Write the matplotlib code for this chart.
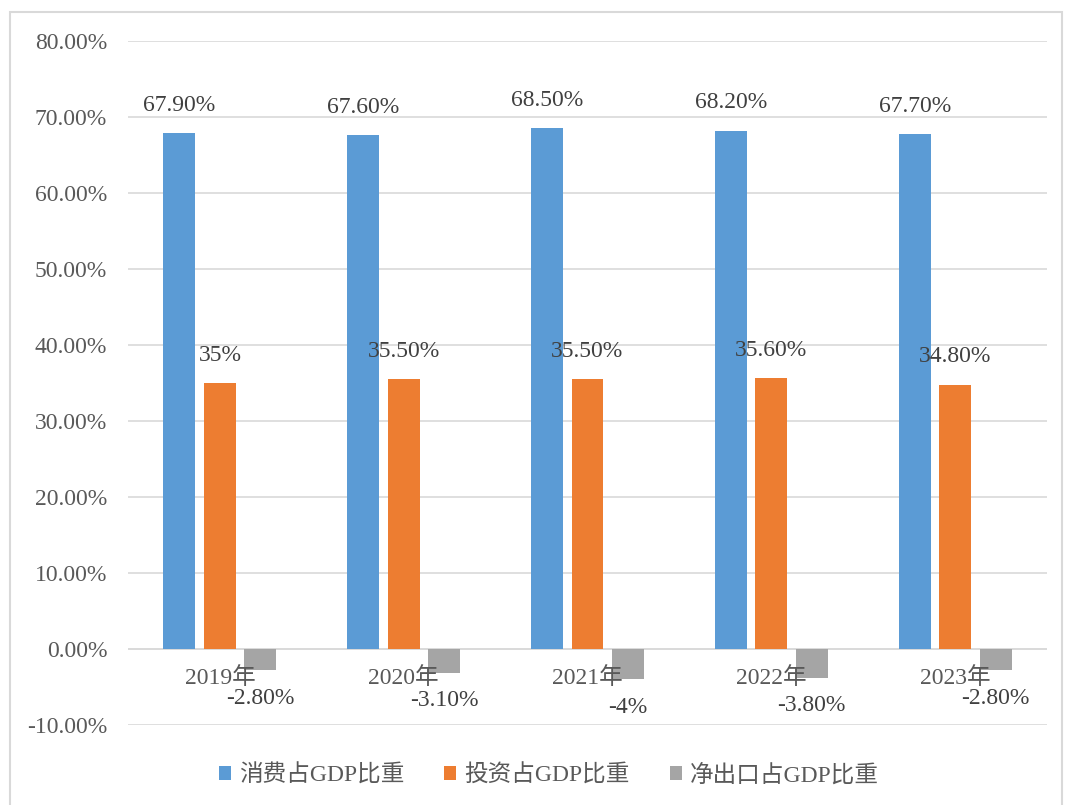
import numpy as np
import matplotlib.pyplot as plt
from matplotlib.patches import Rectangle

plt.rcParams["font.family"] = ["Liberation Serif", "Noto Sans CJK SC"]

years = ["2019年", "2020年", "2021年", "2022年", "2023年"]
series_names = ["消费占GDP比重", "投资占GDP比重", "净出口占GDP比重"]
consumption = [67.9, 67.6, 68.5, 68.2, 67.7]
investment = [35.0, 35.5, 35.5, 35.6, 34.8]
net_export = [-2.8, -3.1, -4.0, -3.8, -2.8]
consumption_labels = ["67.90%", "67.60%", "68.50%", "68.20%", "67.70%"]
investment_labels = ["35%", "35.50%", "35.50%", "35.60%", "34.80%"]
net_export_labels = ["-2.80%", "-3.10%", "-4%", "-3.80%", "-2.80%"]
y_ticks = [-10, 0, 10, 20, 30, 40, 50, 60, 70, 80]

colors = ["#5b9bd5", "#ed7d31", "#a5a5a5"]
text_color = "#595959"

fig = plt.figure(figsize=(10.65, 8.05), dpi=100, facecolor="#ffffff")
# outer chart frame (bottom edge runs off the image, as in the original)
fig.patches.append(Rectangle((10 / 1065, -0.01), 1052 / 1065, 0.995,
                             transform=fig.transFigure, fill=False,
                             edgecolor="#d9d9d9", linewidth=1.5))
ax = fig.add_axes([128 / 1065, 80 / 805, 919 / 1065, 684 / 805])

x = np.arange(len(years))
width = 0.174
step = 0.22
all_values = [consumption, investment, net_export]
all_labels = [consumption_labels, investment_labels, net_export_labels]

for i, (vals, labs) in enumerate(zip(all_values, all_labels)):
    pos = x + (i - 1) * step
    ax.bar(pos, vals, width=width, color=colors[i], label=series_names[i], zorder=3)
    for px, v, lab in zip(pos, vals, labs):
        off = 20 if v >= 0 else -20
        ax.annotate(lab, (px, v), xytext=(0, off), textcoords="offset points",
                    ha="center", va="center", fontsize=17, color="#404040")

# category labels sit just under the zero line
for xi, name in zip(x, years):
    ax.annotate(name, (xi, 0), xytext=(0, -21), textcoords="offset points",
                ha="center", va="center", fontsize=17, color=text_color)

ax.set_xlim(-0.5, len(years) - 0.5)
ax.set_ylim(-10, 80)
ax.set_yticks(y_ticks)
ax.set_yticklabels([f"{t:.2f}%" for t in y_ticks], fontsize=17, color=text_color)
ax.set_xticks([])
ax.tick_params(axis="y", length=0, pad=15)
ax.grid(axis="y", color="#d9d9d9", linewidth=1.2, zorder=0)
ax.axhline(0, color="#d9d9d9", linewidth=1.2, zorder=1)
for s in ax.spines.values():
    s.set_visible(False)

fig.legend(loc="center", bbox_to_anchor=(549 / 1065, 30 / 805), ncol=3, frameon=False,
           fontsize=17, handlelength=0.5, handleheight=0.5, handletextpad=0.35,
           columnspacing=1.7, labelcolor=text_color)

plt.savefig("out.png", dpi=100)
